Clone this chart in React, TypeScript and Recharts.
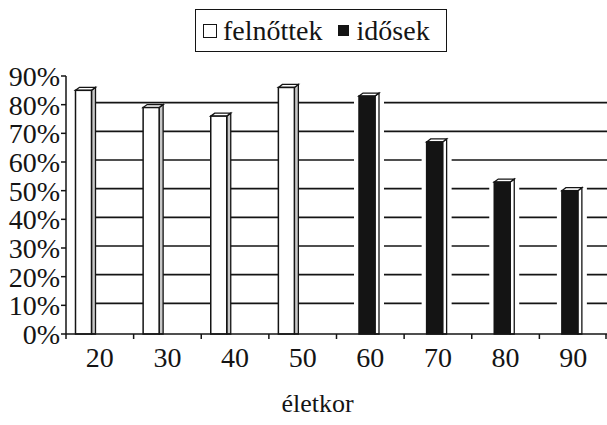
import React from 'react';
import { BarChart, Bar, XAxis, YAxis, CartesianGrid, Label } from 'recharts';

// age groups on the x axis
const ages = ['20', '30', '40', '50', '60', '70', '80', '90'];
// share in percent
const felnottek = [85, 79, 76, 86, 0, 0, 0, 0];
const idosek = [0, 0, 0, 0, 83, 67, 53, 50];
const yTicks = [0, 10, 20, 30, 40, 50, 60, 70, 80, 90];
const gridValues = [10, 20, 30, 40, 50, 60, 70, 80];

const data = ages.map((age, i) => ({ age, felnottek: felnottek[i], idosek: idosek[i] }));

const W = 607;
const H = 425;
const LEFT = 66;
const TOP = 76;
const BOTTOM = 334;
const BAND = (W - LEFT) / ages.length;
const FONT = 'Liberation Serif, DejaVu Serif, serif';
const INK = '#141414';

// fake 3D column: front face, thin side face, top face
const Column3D = (props: any) => {
  const { x, y, width, height, dark } = props;
  if (!height || height <= 0) return null;
  const d = 4;
  const rise = 3;
  const bx = x - 7.5;
  const fw = width - d;
  const bottom = y + height;
  const front = dark ? INK : '#fff';
  const side = dark ? '#fff' : '#c8c8c8';
  return (
    <g>
      {dark && <rect x={bx - 5} y={y - rise - 4} width={width + 10} height={height + rise + 3} fill="#fff" />}
      <polygon
        points={`${bx + fw},${y} ${bx + fw + d},${y - rise} ${bx + fw + d},${bottom} ${bx + fw},${bottom}`}
        fill={side}
        stroke={INK}
        strokeWidth={1.3}
      />
      <polygon
        points={`${bx},${y} ${bx + d},${y - rise} ${bx + fw + d},${y - rise} ${bx + fw},${y}`}
        fill="#fff"
        stroke={INK}
        strokeWidth={1.3}
      />
      <rect x={bx} y={y} width={fw} height={height} fill={front} stroke={INK} strokeWidth={1.5} />
    </g>
  );
};

const AgeTick = (props: any) => {
  const { x, payload, index } = props;
  const i = index ?? payload?.index ?? 0;
  const left = x - BAND / 2;
  return (
    <g>
      <line x1={left} y1={BOTTOM} x2={left} y2={BOTTOM + 5} stroke={INK} strokeWidth={1.5} />
      {i === ages.length - 1 && (
        <line x1={x + BAND / 2 - 1} y1={BOTTOM} x2={x + BAND / 2 - 1} y2={BOTTOM + 5} stroke={INK} strokeWidth={1.5} />
      )}
      <text x={x} y={367} textAnchor="middle" style={{ fontFamily: FONT }} fontSize={28} fill={INK}>
        {payload.value}
      </text>
    </g>
  );
};

const GridLine = (props: any) => {
  const { x1, x2, y1 } = props;
  return <line key={props.key} x1={x1 + 12} x2={x2} y1={y1 - 2} y2={y1 - 2} stroke={INK} strokeWidth={1.6} />;
};

const LegendBox = () => (
  <div
    style={{
      position: 'absolute',
      left: 195,
      top: 9,
      width: 252,
      height: 43,
      border: `1.5px solid ${INK}`,
      display: 'flex',
      alignItems: 'center',
      fontFamily: FONT,
      fontSize: 28,
      color: INK,
      boxSizing: 'border-box',
      paddingLeft: 7,
      background: '#fff',
    }}
  >
    <span style={{ width: 14, height: 14, border: `1.5px solid ${INK}`, boxSizing: 'border-box', display: 'inline-block', marginRight: 6 }} />
    <span>felnőttek</span>
    <span style={{ width: 11, height: 11, background: INK, display: 'inline-block', marginLeft: 15, marginRight: 8 }} />
    <span>idősek</span>
  </div>
);

export default function App() {
  return (
    <div style={{ position: 'absolute', left: 0, top: 0, width: W, height: H, background: '#fff', fontFamily: FONT }}>
      <BarChart
        width={W}
        height={H}
        data={data}
        margin={{ top: TOP, right: 0, left: 0, bottom: 0 }}
        barSize={20}
        barGap={-7}
        barCategoryGap={0}
        style={{ fontFamily: FONT }}
      >
        <CartesianGrid vertical={false} horizontalValues={gridValues} horizontal={GridLine} />
        <XAxis
          dataKey="age"
          height={H - BOTTOM}
          axisLine={{ stroke: INK, strokeWidth: 1.5 }}
          tickLine={false}
          tick={AgeTick}
          interval={0}
        >
          <Label value="életkor" position="insideBottom" offset={13} dx={-19} style={{ fontFamily: FONT }} fontSize={26} fill={INK} />
        </XAxis>
        <YAxis
          width={LEFT}
          domain={[0, 90]}
          ticks={yTicks}
          interval={0}
          tickFormatter={(v: number) => `${v}%`}
          axisLine={{ stroke: INK, strokeWidth: 1.5 }}
          tickLine={{ stroke: INK, strokeWidth: 1.5 }}
          tickSize={5}
          tickMargin={1}
          tick={{ style: { fontFamily: FONT }, fontSize: 28, fill: INK }}
        />
        <Bar dataKey="felnottek" name="felnőttek" isAnimationActive={false} shape={(p: any) => <Column3D {...p} dark={false} />} />
        <Bar dataKey="idosek" name="idősek" isAnimationActive={false} shape={(p: any) => <Column3D {...p} dark />} />
      </BarChart>
      <LegendBox />
    </div>
  );
}
